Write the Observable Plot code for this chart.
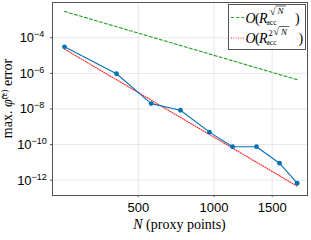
<!DOCTYPE html>
<html>
<head>
<meta charset="utf-8">
<script src="https://cdn.jsdelivr.net/npm/d3@7"></script>
<script src="https://cdn.jsdelivr.net/npm/@observablehq/plot@0.6"></script>
<style>
  html, body { margin: 0; padding: 0; background: #fff; }
</style>
</head>
<body>
<div id="chart"></div>
<script>
// ---- data ----
const proxyN = [178, 388, 573, 757, 965, 1148, 1355, 1570, 1746];
const maxError = [3.1e-5, 9.5e-7, 2.0e-8, 8.5e-9, 5e-10, 7.6e-11, 7.6e-11, 9e-12, 6.8e-13];
const refN = [178, 1746];
const refSqrtN = [3.0e-3, 4.4e-7];     // O(R_acc^{sqrt N})
const ref2SqrtN = [2.3e-5, 4.6e-13];   // O(R_acc^{2 sqrt N})
const xTicks = [500, 1000, 1500];
const yTickExponents = [-4, -6, -8, -10, -12];

const blue = "#0072b2";
const green = "#22a022";
const red = "#ff2020";
const serif = "'Liberation Serif', 'DejaVu Serif', serif";
const sans = "'Liberation Sans', Arial, sans-serif";

const measured = proxyN.map((n, i) => ({n, e: maxError[i]}));
const refA = refN.map((n, i) => ({n, e: refSqrtN[i]}));
const refB = refN.map((n, i) => ({n, e: ref2SqrtN[i]}));
const yTicks = yTickExponents.map(p => Math.pow(10, p));

const chart = Plot.plot({
  width: 311,
  height: 240,
  marginLeft: 52,
  marginRight: 4,
  marginTop: 2,
  marginBottom: 45,
  style: {fontFamily: sans, fontSize: "13px", background: "#fff", overflow: "visible"},
  x: {type: "sqrt", domain: [141, 1853]},
  y: {type: "log", domain: [Math.pow(10, -12.86), Math.pow(10, -2.02)]},
  marks: [
    Plot.gridX(xTicks, {stroke: "#000", strokeOpacity: 0.09, strokeWidth: 1}),
    Plot.gridY(yTicks, {stroke: "#000", strokeOpacity: 0.09, strokeWidth: 1}),
    Plot.axisX(xTicks, {tickSize: 2, tickPadding: 5, stroke: "#555", fontSize: 13, tickFormat: d => String(d), label: null}),
    Plot.axisY(yTicks, {tickSize: 2, tickFormat: () => "", stroke: "#555", label: null}),
    Plot.line(refA, {x: "n", y: "e", stroke: green, strokeWidth: 1.1, strokeDasharray: "3,2.2"}),
    Plot.line(refB, {x: "n", y: "e", stroke: red, strokeWidth: 1.1, strokeDasharray: "1,1.4"}),
    Plot.line(measured, {x: "n", y: "e", stroke: blue, strokeWidth: 1.1}),
    Plot.dot(measured, {x: "n", y: "e", fill: blue, r: 2.4, stroke: "none"}),
    Plot.frame({stroke: "#555", strokeWidth: 1})
  ]
});

document.getElementById("chart").appendChild(chart);

const svg = d3.select(chart);
const yScale = chart.scale("y");

// y tick labels: 10 with superscript exponent
const yt = svg.append("g").attr("font-family", sans).attr("fill", "#000");
yTickExponents.forEach((p, i) => {
  const t = yt.append("text")
    .attr("x", 32).attr("y", yScale.apply(yTicks[i]) + 5)
    .attr("text-anchor", "middle").attr("font-size", "13px");
  t.append("tspan").text("10");
  t.append("tspan").attr("dy", "-5").attr("font-size", "9px")
    .text(String(p).replace("-", "\u2212"));
});

// y-axis label (rotated)
const yl = svg.append("text")
  .attr("transform", "translate(12,98.5) rotate(-90)")
  .attr("text-anchor", "middle")
  .attr("font-family", serif)
  .attr("font-size", "14px")
  .attr("fill", "#000");
yl.append("tspan").text("max. ");
yl.append("tspan").attr("font-style", "italic").text("\u03C6\u0303");
yl.append("tspan").attr("dy", "-5").attr("font-size", "9px").text("(\u03B5)");
yl.append("tspan").attr("dy", "5").text(" error");

// x-axis label
const xl = svg.append("text")
  .attr("x", 179.5).attr("y", 229)
  .attr("text-anchor", "middle")
  .attr("font-family", serif)
  .attr("font-size", "14px")
  .attr("fill", "#000");
xl.append("tspan").attr("font-style", "italic").text("N");
xl.append("tspan").text(" (proxy points)");

// legend
const lg = svg.append("g").attr("font-family", serif).attr("fill", "#000");
lg.append("rect").attr("x", 228.5).attr("y", 4.5).attr("width", 77).attr("height", 45)
  .attr("fill", "#fff").attr("stroke", "#555").attr("stroke-width", 1);
const rows = [
  {color: green, dash: "3,2.2", two: false, b: 22.5},
  {color: red, dash: "1,1.4", two: true, b: 43}
];
function txt(x, y, s, size, italic) {
  return lg.append("text").attr("x", x).attr("y", y).attr("text-anchor", "start")
    .attr("font-size", size + "px").attr("font-style", italic ? "italic" : "normal").text(s);
}
rows.forEach(r => {
  const b = r.b;
  lg.append("line").attr("x1", 231).attr("x2", 244).attr("y1", b - 5).attr("y2", b - 5)
    .attr("stroke", r.color).attr("stroke-width", 1.1).attr("stroke-dasharray", r.dash);
  txt(245.5, b, "O", 14, true);
  txt(255, b, "(", 14, false);
  txt(259, b, "R", 14, true);
  txt(266.5, b + 2, "acc", 7.5, false);
  const s0 = r.two ? 273.5 : 270;
  if (r.two) txt(268.5, b - 7.5, "2", 8.5, false);
  txt(s0, b - 8, "\u221A", 10, false);
  txt(s0 + 7.5, b - 8.5, "N", 9, true);
  lg.append("line").attr("x1", s0 + 5.5).attr("x2", s0 + 16).attr("y1", b - 16.5).attr("y2", b - 16.5)
    .attr("stroke", "#000").attr("stroke-width", 0.6);
  txt(r.two ? 298.5 : 295, b, ")", 14, false);
});
</script>
</body>
</html>
